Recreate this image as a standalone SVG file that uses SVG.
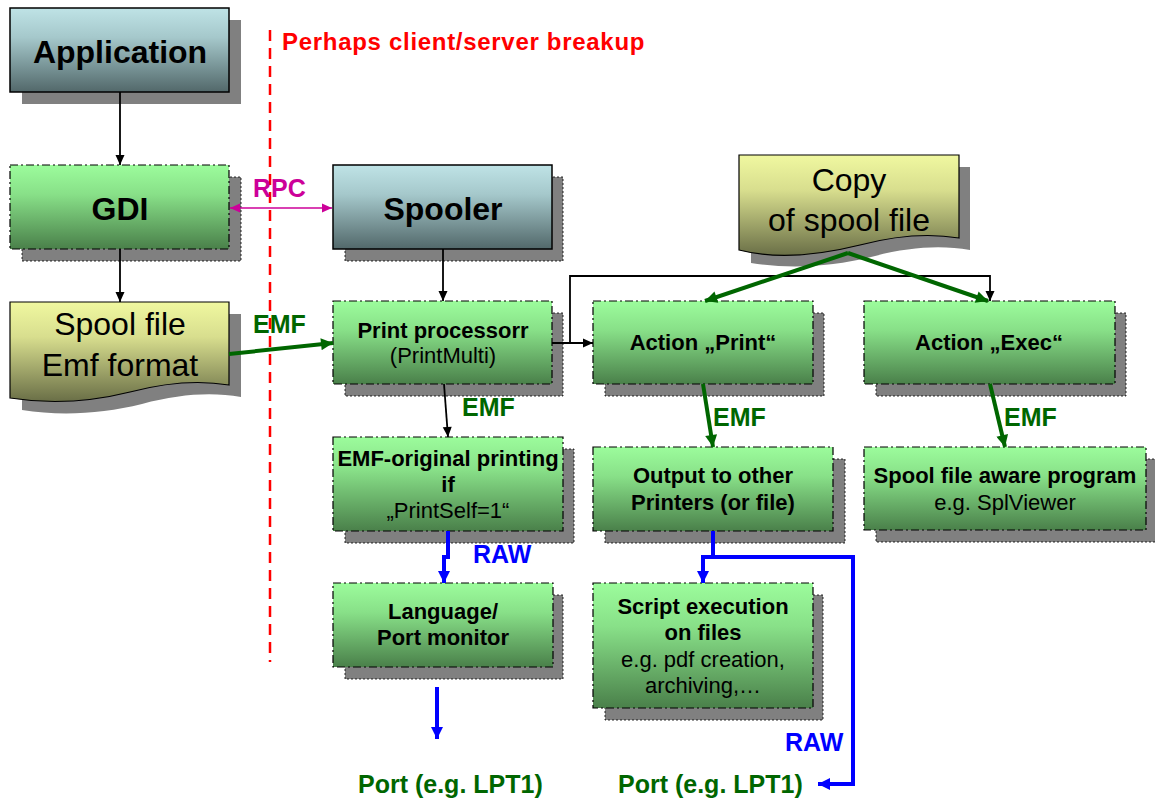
<svg xmlns="http://www.w3.org/2000/svg" width="1155" height="800" viewBox="0 0 1155 800">
<style>
text{font-family:"Liberation Sans",Arial,sans-serif}
.big{font-size:32px;font-weight:bold;text-anchor:middle;fill:#000}
.doc{font-size:32px;text-anchor:middle;fill:#000}
.b{font-size:22px;font-weight:bold;text-anchor:middle;fill:#000}
.r{font-size:22px;text-anchor:middle;fill:#000}
.lblg{font-size:25px;font-weight:bold;fill:#006600}
.lblb{font-size:25px;font-weight:bold;fill:#0000ff}
.sh{fill:#808080}
.shd{fill:#808080;stroke:#000;stroke-width:0.8;stroke-dasharray:2 2}
.gbox{fill:url(#gG);stroke:#000;stroke-width:1.2;stroke-dasharray:8 3 2 3}
.bbox{fill:url(#gB);stroke:#000;stroke-width:1.5}
.dbox{fill:url(#gY);stroke:#000;stroke-width:1.2}
.k{fill:none;stroke:#000;stroke-width:1.8}
.gr{fill:none;stroke:#006600;stroke-width:4}
.bl{fill:none;stroke:#0000ff;stroke-width:4}
</style>
<defs>
<linearGradient id="gG" x1="0" y1="0" x2="0" y2="1"><stop offset="0" stop-color="#9cfc9c"/><stop offset="0.35" stop-color="#88e088"/><stop offset="1" stop-color="#4a804a"/></linearGradient>
<linearGradient id="gB" x1="0" y1="0" x2="0" y2="1"><stop offset="0" stop-color="#bfe3e6"/><stop offset="0.35" stop-color="#a5c8cb"/><stop offset="1" stop-color="#52686a"/></linearGradient>
<linearGradient id="gY" x1="0" y1="0" x2="0" y2="1"><stop offset="0" stop-color="#f0f8a0"/><stop offset="0.35" stop-color="#d8de8e"/><stop offset="1" stop-color="#6a6f47"/></linearGradient>
<marker id="ak" viewBox="0 0 10 10" refX="10" refY="5" markerWidth="11" markerHeight="10" markerUnits="userSpaceOnUse" orient="auto"><path d="M0,0.5 L10,5 L0,9.5 Z" fill="#000"/></marker>
<marker id="am" viewBox="0 0 10 10" refX="10" refY="5" markerWidth="10" markerHeight="10" markerUnits="userSpaceOnUse" orient="auto-start-reverse"><path d="M0,0.5 L10,5 L0,9.5 Z" fill="#cc0099"/></marker>
<marker id="ag" viewBox="0 0 10 10" refX="10" refY="5" markerWidth="14" markerHeight="12" markerUnits="userSpaceOnUse" orient="auto"><path d="M0,0 L10,5 L0,10 Z" fill="#006600"/></marker>
<marker id="ab" viewBox="0 0 10 10" refX="10" refY="5" markerWidth="13" markerHeight="12" markerUnits="userSpaceOnUse" orient="auto"><path d="M0,0 L10,5 L0,10 Z" fill="#0000ff"/></marker>
</defs>
<rect width="1155" height="800" fill="#fff"/>

<line x1="270" y1="30" x2="270" y2="662" stroke="#ff0000" stroke-width="2.5" stroke-dasharray="11 7"/>
<text x="282" y="50" style="font-size:24px;font-weight:bold;fill:#ff0000;letter-spacing:0.7px">Perhaps client/server breakup</text>

<g id="application">
<rect class="sh" x="22" y="20" width="219" height="84"/>
<rect class="bbox" x="10" y="8" width="219" height="84"/>
<text class="big" x="120" y="63">Application</text>
</g>
<g id="gdi">
<rect class="shd" x="22" y="177" width="219" height="84"/>
<rect class="gbox" x="10" y="165" width="219" height="84"/>
<text class="big" x="120" y="220">GDI</text>
</g>
<g id="spooler">
<rect class="shd" x="345" y="177" width="218" height="84"/>
<rect class="bbox" x="333" y="165" width="219" height="84"/>
<text class="big" x="443" y="220">Spooler</text>
</g>
<g id="spoolfile">
<path class="sh" d="M22,314 H241 V397 C211,392 180,394 142,404 C102,414 60,416 22,410 Z"/>
<path class="dbox" d="M10,302 H229 V385 C199,380 168,382 130,392 C90,402 48,404 10,398 Z"/>
<text class="doc" x="120" y="335">Spool file</text>
<text class="doc" x="120" y="376">Emf format</text>
</g>
<g id="copyspool">
<path class="sh" d="M751,167 H970 V250 C940,245 909,247 871,257 C831,267 789,269 751,263 Z"/>
<path class="dbox" d="M739,155 H959 V238 C929,233 898,235 860,245 C820,255 778,260 739,250 Z"/>
<text class="doc" x="849" y="191">Copy</text>
<text class="doc" x="849" y="231">of spool file</text>
</g>
<g id="printproc">
<rect class="shd" x="345" y="313" width="218" height="83"/>
<rect class="gbox" x="333" y="301" width="219" height="83"/>
<text class="b" x="443" y="338">Print processorr</text>
<text class="r" x="443" y="363">(PrintMulti)</text>
</g>
<g id="actionprint">
<rect class="shd" x="605" y="313" width="219" height="83"/>
<rect class="gbox" x="593" y="301" width="220" height="83"/>
<text class="b" x="703" y="350">Action „Print“</text>
</g>
<g id="actionexec">
<rect class="shd" x="876" y="313" width="250" height="83"/>
<rect class="gbox" x="864" y="301" width="251" height="83"/>
<text class="b" x="989" y="350">Action „Exec“</text>
</g>
<g id="emforig">
<rect class="shd" x="345" y="449" width="229" height="94"/>
<rect class="gbox" x="333" y="437" width="230" height="94"/>
<text class="b" x="448" y="466">EMF-original printing</text>
<text class="b" x="448" y="492">if</text>
<text class="r" x="448" y="518">„PrintSelf=1“</text>
</g>
<g id="output">
<rect class="shd" x="605" y="459" width="240" height="84"/>
<rect class="gbox" x="593" y="447" width="240" height="84"/>
<text class="b" x="713" y="483">Output to other</text>
<text class="b" x="713" y="510">Printers (or file)</text>
</g>
<g id="spoolaware">
<rect class="shd" x="876" y="459" width="282" height="83"/>
<rect class="gbox" x="864" y="447" width="282" height="83"/>
<text class="b" x="1005" y="483">Spool file aware program</text>
<text class="r" x="1005" y="510">e.g. SplViewer</text>
</g>
<g id="language">
<rect class="shd" x="345" y="595" width="218" height="84"/>
<rect class="gbox" x="333" y="583" width="220" height="84"/>
<text class="b" x="443" y="619">Language/</text>
<text class="b" x="443" y="645">Port monitor</text>
</g>
<g id="script">
<rect class="shd" x="605" y="595" width="218" height="125"/>
<rect class="gbox" x="593" y="583" width="220" height="125"/>
<text class="b" x="703" y="614">Script execution</text>
<text class="b" x="703" y="640">on files</text>
<text class="r" x="703" y="667">e.g. pdf creation,</text>
<text class="r" x="703" y="693">archiving,…</text>
</g>
<g id="port1"><text class="lblg" x="358" y="793">Port (e.g. LPT1)</text></g>
<g id="port2"><text class="lblg" x="618" y="793">Port (e.g. LPT1)</text></g>

<g id="connectors">
<line class="k" x1="120" y1="92" x2="120" y2="165" marker-end="url(#ak)"/>
<line class="k" x1="120" y1="249" x2="120" y2="302" marker-end="url(#ak)"/>
<line x1="230" y1="208" x2="332" y2="208" stroke="#cc0099" stroke-width="1.5" marker-start="url(#am)" marker-end="url(#am)"/>
<text x="253" y="197" style="font-size:25px;font-weight:bold;fill:#cc0099">RPC</text>
<line class="k" x1="443" y1="249" x2="443" y2="301" marker-end="url(#ak)"/>
<line class="k" x1="444" y1="384" x2="448" y2="437" marker-end="url(#ak)"/>
<line class="k" x1="552" y1="343" x2="593" y2="343" marker-end="url(#ak)"/>
<polyline class="k" points="570,343 570,276 990,276 990,301" marker-end="url(#ak)"/>
<line class="gr" x1="229" y1="354" x2="333" y2="343" marker-end="url(#ag)"/>
<text class="lblg" x="253" y="333">EMF</text>
<text class="lblg" x="462" y="416">EMF</text>
<line class="gr" x1="848" y1="253" x2="705" y2="301" marker-end="url(#ag)"/>
<line class="gr" x1="848" y1="253" x2="988" y2="301" marker-end="url(#ag)"/>
<line class="gr" x1="703" y1="384" x2="713" y2="447" marker-end="url(#ag)"/>
<text class="lblg" x="713" y="426">EMF</text>
<line class="gr" x1="990" y1="384" x2="1005" y2="447" marker-end="url(#ag)"/>
<text class="lblg" x="1004" y="426">EMF</text>
<polyline class="bl" points="448,531 448,557 444,557 444,583" marker-end="url(#ab)"/>
<text class="lblb" x="473" y="563">RAW</text>
<line class="bl" x1="437" y1="687" x2="437" y2="739" marker-end="url(#ab)"/>
<polyline class="bl" points="713,531 713,557 703,557 703,583" marker-end="url(#ab)"/>
<polyline class="bl" points="713,557 853,557 853,784 818,784" marker-end="url(#ab)"/>
<text class="lblb" x="785" y="751">RAW</text>
</g>
</svg>
